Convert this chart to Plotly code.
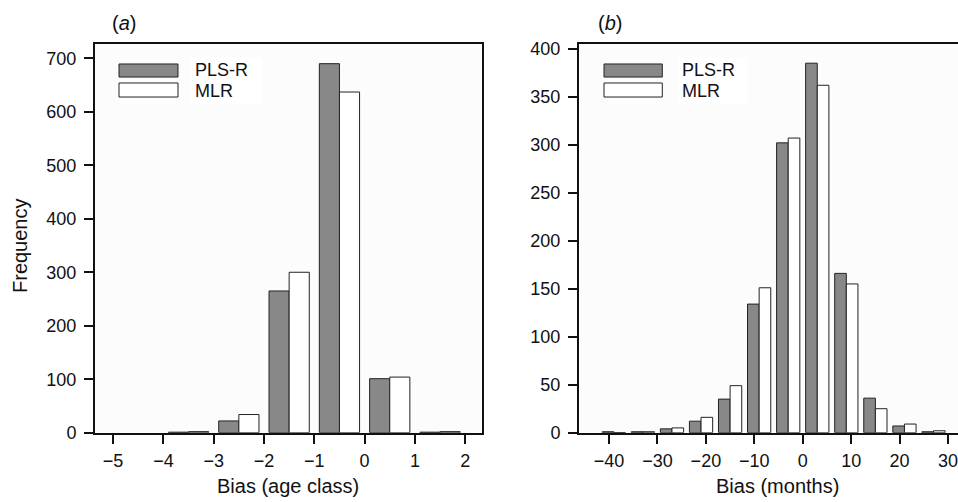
import plotly.graph_objects as go

# ---- data ----
age_bins = [-3.5, -2.5, -1.5, -0.5, 0.5, 1.5]
age_pls = [1, 22, 265, 690, 101, 1]
age_mlr = [2, 34, 300, 637, 104, 2]

month_bins = [-39, -33, -27, -21, -15, -9, -3, 3, 9, 15, 21, 27]
month_pls = [1, 1, 4, 12, 35, 134, 302, 385, 166, 36, 7, 1]
month_mlr = [0, 1, 5, 16, 49, 151, 307, 362, 155, 25, 9, 2]

series_names = ["PLS-R", "MLR"]
age_xticks = [-5, -4, -3, -2, -1, 0, 1, 2]
age_yticks = [0, 100, 200, 300, 400, 500, 600, 700]
month_xticks = [-40, -30, -20, -10, 0, 10, 20, 30]
month_yticks = [0, 50, 100, 150, 200, 250, 300, 350, 400]

W, H = 958, 502
FONT = "Liberation Sans, Arial, sans-serif"
GRAY = "#888888"
EDGE = "#222222"

fig = go.Figure()

fig.add_trace(go.Bar(x=age_bins, y=age_pls, name=series_names[0], xaxis="x", yaxis="y",
                     marker=dict(color=GRAY, line=dict(color=EDGE, width=1)), showlegend=False))
fig.add_trace(go.Bar(x=age_bins, y=age_mlr, name=series_names[1], xaxis="x", yaxis="y",
                     marker=dict(color="white", line=dict(color=EDGE, width=1)), showlegend=False))
fig.add_trace(go.Bar(x=month_bins, y=month_pls, name=series_names[0], xaxis="x2", yaxis="y2",
                     marker=dict(color=GRAY, line=dict(color=EDGE, width=1)), showlegend=False))
fig.add_trace(go.Bar(x=month_bins, y=month_mlr, name=series_names[1], xaxis="x2", yaxis="y2",
                     marker=dict(color="white", line=dict(color=EDGE, width=1)), showlegend=False))

def px_x(p):
    return p / W

def px_y(p):
    return 1 - p / H

ya_dom = [px_y(432.7), px_y(44)]
axis_common = dict(showline=True, linewidth=2, linecolor="#111", ticks="outside", ticklen=9,
                   tickwidth=2, tickcolor="#111", showgrid=False, zeroline=False,
                   automargin=False, ticklabeloverflow="allow",
                   tickfont=dict(family=FONT, size=18, color="#111"))

fig.update_layout(
    template="none",
    width=W, height=H,
    margin=dict(l=0, r=0, t=0, b=0, pad=0),
    paper_bgcolor="white",
    plot_bgcolor="#fcfcfc",
    barmode="group", bargap=0.2, bargroupgap=0,
    xaxis=dict(domain=[px_x(95), px_x(482.3)], range=[-5.36, 2.34], tickvals=age_xticks,
               mirror=True, anchor="y", ticklabelstandoff=2, **axis_common),
    yaxis=dict(domain=ya_dom, range=[0, 726.8], tickvals=age_yticks, mirror=True,
               anchor="x", ticklabelstandoff=4, **axis_common),
    xaxis2=dict(domain=[px_x(579), 1.0], range=[-46.2, 32.06], tickvals=month_xticks,
                mirror=True, anchor="y2", ticklabelstandoff=2, **axis_common),
    yaxis2=dict(domain=ya_dom, range=[0, 405], tickvals=month_yticks, mirror=False,
                anchor="x2", ticklabelstandoff=4, **axis_common),
)

# legends drawn inside each panel
leg_font = dict(family=FONT, size=18, color="#111")
for xr, yr, tx, x0, x1 in [("x domain", "y domain", 0.2556, 0.062, 0.2143),
                           ("x2 domain", "y2 domain", 0.27, 0.066, 0.2198)]:
    fig.add_shape(type="rect", xref=xr, yref=yr, x0=tx - 0.012, x1=tx + 0.175, y0=0.845, y1=0.965,
                  fillcolor="white", line=dict(width=0), layer="below")
    fig.add_shape(type="rect", xref=xr, yref=yr, x0=x0, x1=x1, y0=0.915, y1=0.9486,
                  fillcolor=GRAY, line=dict(color=EDGE, width=1))
    fig.add_shape(type="rect", xref=xr, yref=yr, x0=x0, x1=x1, y0=0.8636, y1=0.8997,
                  fillcolor="white", line=dict(color=EDGE, width=1))
    fig.add_annotation(xref=xr, yref=yr, x=tx, y=(432.7 - 70) / 388.7, text=series_names[0],
                       showarrow=False, xanchor="left", yanchor="middle", borderpad=0, font=leg_font)
    fig.add_annotation(xref=xr, yref=yr, x=tx, y=(432.7 - 90.8) / 388.7, text=series_names[1],
                       showarrow=False, xanchor="left", yanchor="middle", borderpad=0, font=leg_font)

ann_font = dict(family=FONT, size=20, color="#111")
fig.add_annotation(xref="paper", yref="paper", x=px_x(20), y=px_y(246), text="Frequency",
                   textangle=-90, showarrow=False, xanchor="center", yanchor="middle", font=ann_font)
fig.add_annotation(xref="paper", yref="paper", x=px_x(288), y=px_y(486), text="Bias (age class)",
                   showarrow=False, xanchor="center", yanchor="middle", font=ann_font)
fig.add_annotation(xref="paper", yref="paper", x=px_x(777), y=px_y(486), text="Bias (months)",
                   showarrow=False, xanchor="center", yanchor="middle", font=ann_font)
fig.add_annotation(xref="paper", yref="paper", x=px_x(124), y=px_y(23), text="(<i>a</i>)",
                   showarrow=False, xanchor="center", yanchor="middle", font=ann_font)
fig.add_annotation(xref="paper", yref="paper", x=px_x(610), y=px_y(23), text="(<i>b</i>)",
                   showarrow=False, xanchor="center", yanchor="middle", font=ann_font)

fig.write_html("out.html")
